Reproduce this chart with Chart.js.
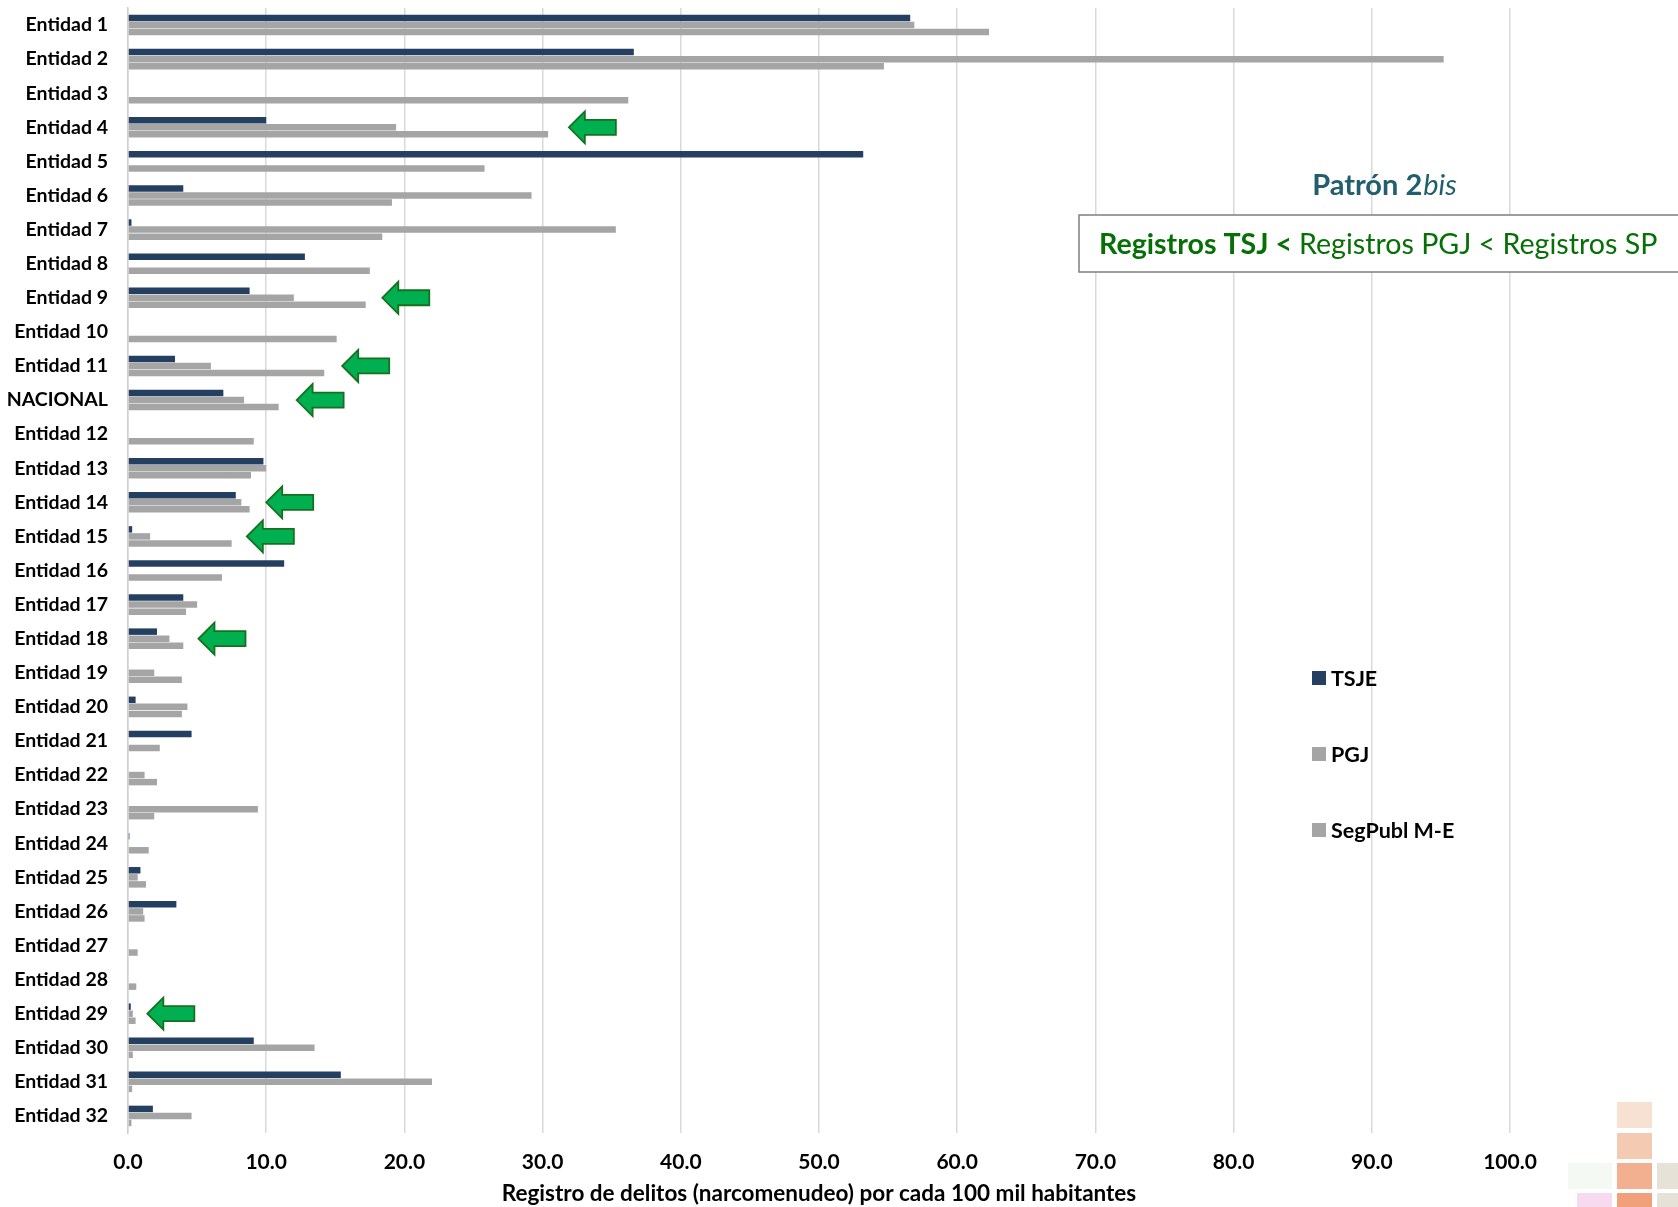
<!DOCTYPE html>
<html>
<head>
<meta charset="utf-8">
<script src="https://cdn.jsdelivr.net/npm/chart.js@4.4.0/dist/chart.umd.min.js"></script>
<style>
  body { margin: 0; background: #fff; }
  #wrap { width: 1678px; height: 1207px; }
</style>
</head>
<body>
<div id="wrap"><canvas id="myChart" width="1678" height="1207"></canvas></div>
<script>
// categorias (de arriba hacia abajo)
var entidades = ["Entidad 1", "Entidad 2", "Entidad 3", "Entidad 4", "Entidad 5", "Entidad 6", "Entidad 7", "Entidad 8",
    "Entidad 9", "Entidad 10", "Entidad 11", "NACIONAL", "Entidad 12", "Entidad 13", "Entidad 14", "Entidad 15",
    "Entidad 16", "Entidad 17", "Entidad 18", "Entidad 19", "Entidad 20", "Entidad 21", "Entidad 22", "Entidad 23",
    "Entidad 24", "Entidad 25", "Entidad 26", "Entidad 27", "Entidad 28", "Entidad 29", "Entidad 30", "Entidad 31",
    "Entidad 32"];

var tsje = [56.6, 36.6, 0, 10.0, 53.2, 4.0, 0.25, 12.8, 8.8, 0, 3.4, 6.9, 0, 9.8, 7.8, 0.3,
    11.3, 4.0, 2.1, 0, 0.55, 4.6, 0, 0, 0.1, 0.9, 3.5, 0, 0, 0.2, 9.1, 15.4, 1.8];
var pgj = [56.9, 95.2, 0, 19.4, 0, 29.2, 35.3, 0, 12.0, 0, 6.0, 8.4, 0, 10.0, 8.2, 1.6,
    0, 5.0, 3.0, 1.9, 4.3, 0, 1.2, 9.4, 0, 0.7, 1.1, 0, 0, 0.35, 13.5, 22.0, 4.6];
var segPubl = [62.3, 54.7, 36.2, 30.4, 25.8, 19.1, 18.4, 17.5, 17.2, 15.1, 14.2, 10.9, 9.1, 8.9, 8.8, 7.5,
    6.8, 4.2, 4.0, 3.9, 3.9, 2.3, 2.1, 1.9, 1.5, 1.3, 1.2, 0.7, 0.6, 0.55, 0.35, 0.3, 0.25];

var xTicks = [0, 10, 20, 30, 40, 50, 60, 70, 80, 90, 100];

// flechas verdes: entidad y valor donde queda la punta
var flechaCat = ["Entidad 4", "Entidad 9", "Entidad 11", "NACIONAL", "Entidad 14", "Entidad 15", "Entidad 18", "Entidad 29"];
var flechaVal = [31.9, 18.4, 15.5, 12.2, 10.0, 8.6, 5.1, 1.4];

var fuente = 'Lato, "Open Sans", sans-serif';
Chart.defaults.font.family = fuente;

var fondo = {
    id: 'fondo',
    beforeDraw: function (chart) {
        var c = chart.ctx;
        c.save();
        c.fillStyle = '#ffffff';
        c.fillRect(0, 0, chart.width, chart.height);
        // logo de la esquina (cuadritos)
        c.globalAlpha = 0.85;
        c.fillStyle = '#f6dccb'; c.fillRect(1617, 1102, 35, 26);
        c.fillStyle = '#f3c1a5'; c.fillRect(1617, 1133, 35, 26);
        c.fillStyle = '#f0a27c'; c.fillRect(1617, 1163, 35, 26);
        c.fillStyle = '#ee9062'; c.fillRect(1617, 1193, 35, 14);
        c.fillStyle = '#e3ddd0'; c.fillRect(1657, 1163, 21, 26);
        c.fillStyle = '#e3ddd0'; c.fillRect(1657, 1193, 21, 14);
        c.fillStyle = '#f6d3ec'; c.fillRect(1577, 1193, 35, 14);
        c.fillStyle = '#f3f8f1'; c.fillRect(1568, 1163, 44, 26);
        c.restore();
    }
};

var extras = {
    id: 'extras',
    afterDatasetsDraw: function (chart) {
        var c = chart.ctx;
        var xs = chart.scales.x, ys = chart.scales.y;
        c.save();
        for (var i = 0; i < flechaCat.length; i++) {
            var px = xs.getPixelForValue(flechaVal[i]);
            var py = ys.getPixelForValue(entidades.indexOf(flechaCat[i]));
            c.beginPath();
            c.moveTo(px, py);
            c.lineTo(px + 16, py - 16);
            c.lineTo(px + 16, py - 7.5);
            c.lineTo(px + 47, py - 7.5);
            c.lineTo(px + 47, py + 7.5);
            c.lineTo(px + 16, py + 7.5);
            c.lineTo(px + 16, py + 16);
            c.closePath();
            c.fillStyle = '#00b050';
            c.fill();
            c.lineWidth = 1.8;
            c.strokeStyle = '#17701f';
            c.stroke();
        }
        c.restore();
    },
    afterDraw: function (chart) {
        var c = chart.ctx;
        c.save();
        // titulo
        c.textBaseline = 'middle';
        c.fillStyle = '#215e6e';
        var t1 = 'Patrón 2';
        c.font = 'italic 29px ' + fuente;
        var w2 = c.measureText('bis').width;
        c.font = 'bold 29px ' + fuente;
        var w1 = c.measureText(t1).width;
        var x0 = 1384 - (w1 + w2) / 2;
        c.textAlign = 'left';
        c.fillText(t1, x0, 186);
        c.font = 'italic 29px ' + fuente;
        c.fillText('bis', x0 + w1 + 1, 186);

        // recuadro
        c.fillStyle = '#ffffff';
        c.fillRect(1079, 215, 620, 57);
        c.strokeStyle = '#7f7f7f';
        c.lineWidth = 1.5;
        c.strokeRect(1079, 215, 620, 57);
        c.fillStyle = '#067006';
        c.font = 'bold 28.6px ' + fuente;
        var a = 'Registros TSJ <';
        c.fillText(a, 1099, 245);
        var wa = c.measureText(a + ' ').width;
        c.font = '28.6px ' + fuente;
        c.fillText('Registros PGJ < Registros SP', 1099 + wa, 245);

        // leyenda
        var ly = [678, 754, 830];
        chart.data.datasets.forEach(function (ds, k) {
            c.fillStyle = ds.backgroundColor;
            c.fillRect(1312, ly[k] - 7, 14, 14);
            c.fillStyle = '#000000';
            c.font = 'bold 21.5px ' + fuente;
            c.fillText(ds.label, 1331, ly[k] + 1);
        });
        c.restore();
    }
};

var ctx = document.getElementById("myChart");
var myChart = new Chart(ctx, {
    type: 'bar',
    data: {
        labels: entidades,
        datasets: [{
            label: 'TSJE',
            data: tsje,
            backgroundColor: '#243f60'
        },
        {
            label: 'PGJ',
            data: pgj,
            backgroundColor: '#a5a5a5'
        },
        {
            label: 'SegPubl M-E',
            data: segPubl,
            backgroundColor: '#a5a5a5'
        }]
    },
    options: {
        indexAxis: 'y',
        responsive: false,
        animation: false,
        maintainAspectRatio: false,
        categoryPercentage: 0.62,
        barPercentage: 0.92,
        layout: { padding: { top: 8, right: 168, bottom: 0, left: 0 } },
        plugins: {
            legend: { display: false },
            tooltip: { enabled: false }
        },
        scales: {
            x: {
                min: 0,
                max: 100,
                afterBuildTicks: function (scale) {
                    scale.ticks = xTicks.map(function (v) { return { value: v }; });
                },
                afterFit: function (scale) { scale.height = 74; },
                grid: { color: '#d9d9d9', lineWidth: 1.5, drawTicks: false },
                border: { display: false },
                ticks: {
                    padding: 17,
                    color: '#000000',
                    font: { size: 21, weight: 'bold' },
                    callback: function (v) { return Number(v).toFixed(1); }
                },
                title: {
                    display: true,
                    text: 'Registro de delitos (narcomenudeo) por cada 100 mil habitantes',
                    color: '#000000',
                    font: { size: 22.5, weight: 'bold' },
                    padding: { top: 0, bottom: 0 }
                }
            },
            y: {
                afterFit: function (scale) {
                    scale.width = 128;
                    scale.paddingTop = 0;
                    scale.paddingBottom = 0;
                },
                grid: { display: false, drawTicks: false },
                border: { display: true, color: '#d0d0d0', width: 1.5 },
                ticks: {
                    padding: 20,
                    color: '#000000',
                    autoSkip: false,
                    font: { size: 19.5, weight: 'bold' }
                }
            }
        }
    },
    plugins: [fondo, extras]
});
</script>
</body>
</html>
